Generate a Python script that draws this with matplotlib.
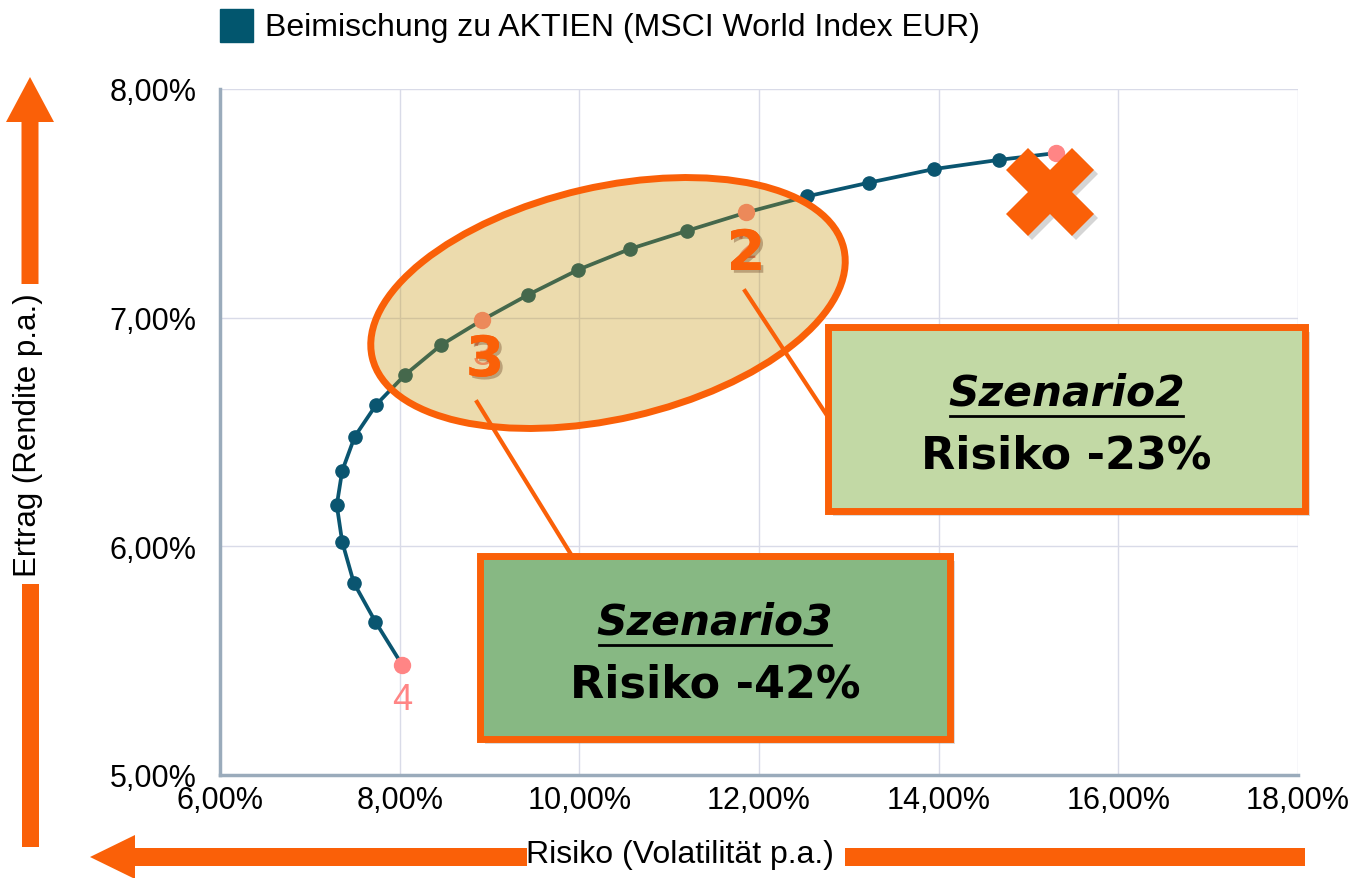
import matplotlib
matplotlib.use("Agg")
import matplotlib.pyplot as plt
import matplotlib.patheffects as pe
from matplotlib.patches import Ellipse, Rectangle, Polygon
from matplotlib.ticker import FuncFormatter, MultipleLocator

# Effizienzkurve: Risiko / Ertrag in % p.a.
risk = [8.03, 7.73, 7.49, 7.36, 7.30, 7.36, 7.50, 7.74, 8.06, 8.46, 8.92,
        9.43, 9.99, 10.56, 11.20, 11.86, 12.53, 13.22, 13.95, 14.67, 15.31]
ret = [5.48, 5.67, 5.84, 6.02, 6.18, 6.33, 6.48, 6.62, 6.75, 6.88, 6.99,
       7.10, 7.21, 7.30, 7.38, 7.46, 7.53, 7.59, 7.65, 7.69, 7.72]
hl_idx = [0, 10, 15, 20]
hl_labels = ["4", "3", "2", ""]

series_name = "Beimischung zu AKTIEN (MSCI World Index EUR)"
x_label = "Risiko (Volatilität p.a.)"
y_label = "Ertrag (Rendite p.a.)"
scen_titles = ["Szenario2", "Szenario3"]
scen_texts = ["Risiko -23%", "Risiko -42%"]

TEAL = "#0a5570"
PINK = "#ff8585"
ORANGE = "#fa6008"
FONT = "Liberation Sans"

W, H = 1348, 879
fig = plt.figure(figsize=(W / 100, H / 100), dpi=100)
fig.patch.set_facecolor("white")

ax = fig.add_axes([220 / W, 1 - 776 / H, (1298 - 220) / W, (776 - 90) / H])
ax.plot(risk, ret, color=TEAL, lw=2.7, marker="o", markersize=9.5, zorder=3)
ax.plot([risk[i] for i in hl_idx], [ret[i] for i in hl_idx], "o",
        color=PINK, markersize=11.5, zorder=4)
for i, lab in zip(hl_idx, hl_labels):
    if lab:
        ax.annotate(lab, (risk[i], ret[i]), xytext=(0, -25), textcoords="offset points",
                    ha="center", va="center", color=PINK, fontsize=26, family=FONT, zorder=4)

ax.set_xlim(6, 18)
ax.set_ylim(5, 8)
ax.xaxis.set_major_locator(MultipleLocator(2))
ax.yaxis.set_major_locator(MultipleLocator(1))
fmt = FuncFormatter(lambda v, p: f"{v:.2f}".replace(".", ",") + "%")
ax.xaxis.set_major_formatter(fmt)
ax.yaxis.set_major_formatter(fmt)
ax.tick_params(length=0, labelsize=22)
ax.tick_params(axis="y", pad=17)
ax.tick_params(axis="x", pad=7)
for t in ax.get_xticklabels() + ax.get_yticklabels():
    t.set_family(FONT)
ax.grid(True, color="#d9dbe8", lw=1)
ax.set_axisbelow(True)
for s in ("top", "right"):
    ax.spines[s].set_visible(False)
for s in ("left", "bottom"):
    ax.spines[s].set_color("#9aabbb")
    ax.spines[s].set_linewidth(2.5)

# Overlay in Pixelkoordinaten fuer Annotationen
ov = fig.add_axes([0, 0, 1, 1], zorder=5)
ov.set_xlim(0, W)
ov.set_ylim(H, 0)
ov.axis("off")
ov.patch.set_alpha(0)

# Legende
ov.add_patch(Rectangle((220, 10), 33, 33, color="#02566e"))
ov.text(265, 28, series_name, fontsize=23, family=FONT, va="center", ha="left")

# Achsenbeschriftungen
ov.text(680, 855, x_label, fontsize=23, family=FONT, ha="center", va="center")
ov.text(28, 435, y_label, fontsize=22.5, family=FONT, ha="center", va="center", rotation=90)

# Pfeile
ov.add_patch(Polygon([(30, 78), (6, 123), (21.5, 123), (21.5, 285), (38.5, 285),
                      (38.5, 123), (54, 123)], color=ORANGE, lw=0))
ov.add_patch(Rectangle((21.5, 585), 17, 263, color=ORANGE, lw=0))
ov.add_patch(Polygon([(90, 858), (135, 836), (135, 849), (527, 849), (527, 867),
                      (135, 867), (135, 880)], color=ORANGE, lw=0))
ov.add_patch(Rectangle((845, 849), 460, 18, color=ORANGE, lw=0))

# Ellipse
ell = dict(xy=(608, 304), width=484, height=232, angle=-13)
ov.add_patch(Ellipse(**ell, facecolor="#c49200", alpha=0.32, lw=0))
ov.add_patch(Ellipse(**ell, facecolor="none", edgecolor=ORANGE, lw=5))

# Verbindungslinien
ov.plot([745, 828], [292, 418], color=ORANGE, lw=3)
ov.plot([477, 572], [403, 557], color=ORANGE, lw=3)

# Szenario-Boxen
boxes = [(828, 328, 477, 184, "#c2d9a5"), (480, 557, 470, 183, "#87b883")]
for (bx, by, bw, bh, fc), title, txt in zip(boxes, scen_titles, scen_texts):
    ov.add_patch(Rectangle((bx + 5, by + 5), bw, bh, facecolor="#999999", alpha=0.35, lw=0))
    ov.add_patch(Rectangle((bx, by), bw, bh, facecolor=fc, edgecolor=ORANGE, lw=5))
    t = ov.text(bx + bw / 2, by + 66, title, fontsize=30.5, family="DejaVu Sans",
                weight="bold", style="italic", ha="center", va="center")
    ov.text(bx + bw / 2, by + 128, txt, fontsize=32, family="DejaVu Sans",
            weight="bold", ha="center", va="center")
    fig.canvas.draw()
    bb = t.get_window_extent().transformed(ov.transData.inverted())
    yline = max(bb.y0, bb.y1) + 2
    ov.plot([bb.x0 + 2, bb.x1 - 2], [yline, yline], color="black", lw=2)

# Grosse Nummern
shadow = [pe.withSimplePatchShadow(offset=(2, -2), alpha=0.3), pe.Normal()]
ov.text(485, 362, "3", fontsize=40, weight="bold", family="DejaVu Sans", color=ORANGE,
        ha="center", va="center", path_effects=shadow)
ov.text(746, 256, "2", fontsize=40, weight="bold", family="DejaVu Sans", color=ORANGE,
        ha="center", va="center", path_effects=shadow)

# Kreuz
ov.plot([1054], [197], marker="X", markersize=64, color="#888888", alpha=0.35, mew=0)
ov.plot([1050], [193], marker="X", markersize=64, color=ORANGE, mew=0)

fig.savefig("out.png", dpi=100)
